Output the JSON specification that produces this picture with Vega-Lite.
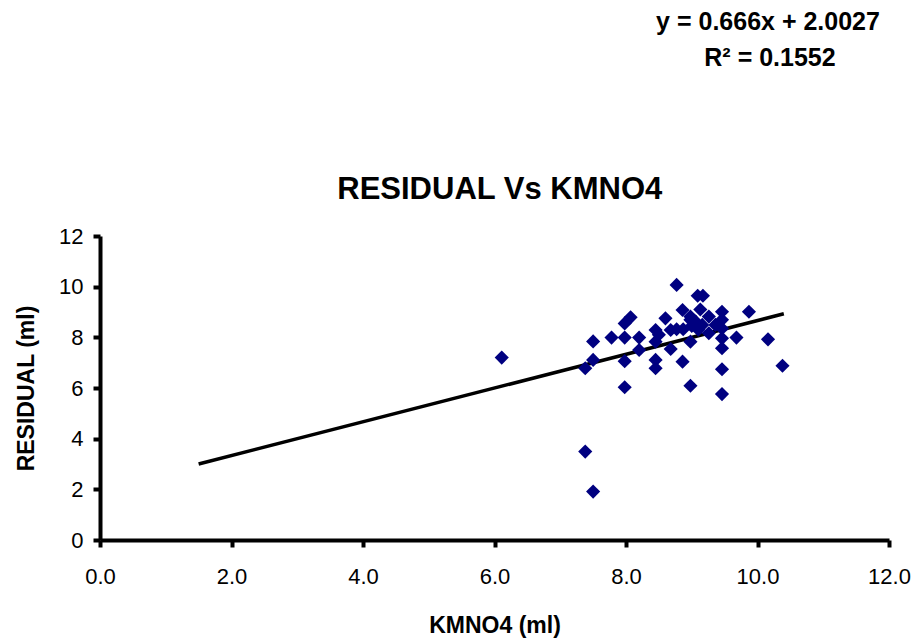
{
  "$schema": "https://vega.github.io/schema/vega-lite/v6.json",
  "autosize": "none",
  "width": 789,
  "height": 304,
  "padding": {"left": 100, "top": 236, "right": 29, "bottom": 101},
  "background": "white",
  "config": {
    "font": "Liberation Sans",
    "view": {"stroke": null},
    "axis": {
      "grid": false,
      "domainColor": "black",
      "domainWidth": 4,
      "tickColor": "black",
      "tickWidth": 4,
      "tickSize": 7,
      "labelFont": "Liberation Sans",
      "labelFontSize": 22,
      "labelColor": "black",
      "labelFlush": false,
      "titleFont": "Liberation Sans",
      "titleFontSize": 23,
      "titleFontWeight": "bold",
      "titleColor": "black"
    }
  },
  "datasets": {
    "points": [
      {"kmno4": 6.11, "residual": 7.2},
      {"kmno4": 7.38, "residual": 3.49},
      {"kmno4": 7.5, "residual": 1.91},
      {"kmno4": 7.38, "residual": 6.78},
      {"kmno4": 7.5, "residual": 7.11},
      {"kmno4": 7.5, "residual": 7.84},
      {"kmno4": 7.78, "residual": 7.99},
      {"kmno4": 7.98, "residual": 7.99},
      {"kmno4": 7.98, "residual": 8.55},
      {"kmno4": 8.07, "residual": 8.79},
      {"kmno4": 7.98, "residual": 7.06},
      {"kmno4": 7.98, "residual": 6.03},
      {"kmno4": 8.2, "residual": 7.99},
      {"kmno4": 8.2, "residual": 7.5},
      {"kmno4": 8.45, "residual": 8.29},
      {"kmno4": 8.45, "residual": 7.83},
      {"kmno4": 8.45, "residual": 7.11},
      {"kmno4": 8.45, "residual": 6.78},
      {"kmno4": 8.5, "residual": 8.1},
      {"kmno4": 8.6, "residual": 8.75},
      {"kmno4": 8.68, "residual": 8.29},
      {"kmno4": 8.68, "residual": 7.54},
      {"kmno4": 8.77, "residual": 10.07},
      {"kmno4": 8.77, "residual": 8.32},
      {"kmno4": 8.86, "residual": 9.08},
      {"kmno4": 8.86, "residual": 7.04},
      {"kmno4": 8.87, "residual": 8.32},
      {"kmno4": 8.98, "residual": 6.09},
      {"kmno4": 8.98, "residual": 7.83},
      {"kmno4": 8.98, "residual": 8.69},
      {"kmno4": 8.98, "residual": 8.82},
      {"kmno4": 9.0, "residual": 8.45},
      {"kmno4": 9.09, "residual": 9.64},
      {"kmno4": 9.17, "residual": 9.64},
      {"kmno4": 9.13, "residual": 9.1},
      {"kmno4": 9.06, "residual": 8.62},
      {"kmno4": 9.1, "residual": 8.3},
      {"kmno4": 9.26, "residual": 8.82},
      {"kmno4": 9.26, "residual": 8.16},
      {"kmno4": 9.16, "residual": 8.49},
      {"kmno4": 9.36, "residual": 8.49},
      {"kmno4": 9.46, "residual": 9.01},
      {"kmno4": 9.46, "residual": 8.69},
      {"kmno4": 9.46, "residual": 7.96},
      {"kmno4": 9.46, "residual": 7.57},
      {"kmno4": 9.46, "residual": 6.74},
      {"kmno4": 9.46, "residual": 5.76},
      {"kmno4": 9.46, "residual": 8.35},
      {"kmno4": 9.68, "residual": 7.99},
      {"kmno4": 9.87, "residual": 9.01},
      {"kmno4": 10.16, "residual": 7.92},
      {"kmno4": 10.38, "residual": 6.88}
    ],
    "trend": [
      {"kmno4": 1.5, "residual": 3.0017},
      {"kmno4": 10.4, "residual": 8.929}
    ]
  },
  "layer": [
    {
      "data": {"name": "trend"},
      "mark": {"type": "line", "color": "black", "strokeWidth": 3.5},
      "encoding": {
        "x": {"field": "kmno4", "type": "quantitative",
              "scale": {"domain": [0, 12], "nice": false},
              "axis": {"title": "KMNO4 (ml)", "values": [0, 2, 4, 6, 8, 10, 12], "format": ".1f", "labelPadding": 19, "titlePadding": 27}},
        "y": {"field": "residual", "type": "quantitative",
              "scale": {"domain": [0, 12], "nice": false},
              "axis": {"title": "RESIDUAL  (ml)", "values": [0, 2, 4, 6, 8, 10, 12], "labelPadding": 10, "titlePadding": 20}}
      }
    },
    {
      "data": {"name": "points"},
      "mark": {"type": "point", "shape": "diamond", "filled": true, "color": "#000080", "opacity": 1, "size": 200},
      "encoding": {
        "x": {"field": "kmno4", "type": "quantitative"},
        "y": {"field": "residual", "type": "quantitative"}
      }
    },
    {
      "data": {"values": [{"t": "RESIDUAL Vs KMNO4"}]},
      "mark": {"type": "text", "fontSize": 31, "fontWeight": "bold", "color": "black", "clip": false, "baseline": "middle"},
      "encoding": {
        "x": {"datum": 6.08, "type": "quantitative"},
        "y": {"datum": 13.82, "type": "quantitative"},
        "text": {"field": "t"}
      }
    },
    {
      "data": {"values": [{"t": "y = 0.666x + 2.0027"}]},
      "mark": {"type": "text", "fontSize": 25, "fontWeight": "bold", "color": "black", "clip": false, "baseline": "middle"},
      "encoding": {
        "x": {"datum": 10.16, "type": "quantitative"},
        "y": {"datum": 20.45, "type": "quantitative"},
        "text": {"field": "t"}
      }
    },
    {
      "data": {"values": [{"t": "R² = 0.1552"}]},
      "mark": {"type": "text", "fontSize": 25, "fontWeight": "bold", "color": "black", "clip": false, "baseline": "middle"},
      "encoding": {
        "x": {"datum": 10.19, "type": "quantitative"},
        "y": {"datum": 19.03, "type": "quantitative"},
        "text": {"field": "t"}
      }
    }
  ]
}
